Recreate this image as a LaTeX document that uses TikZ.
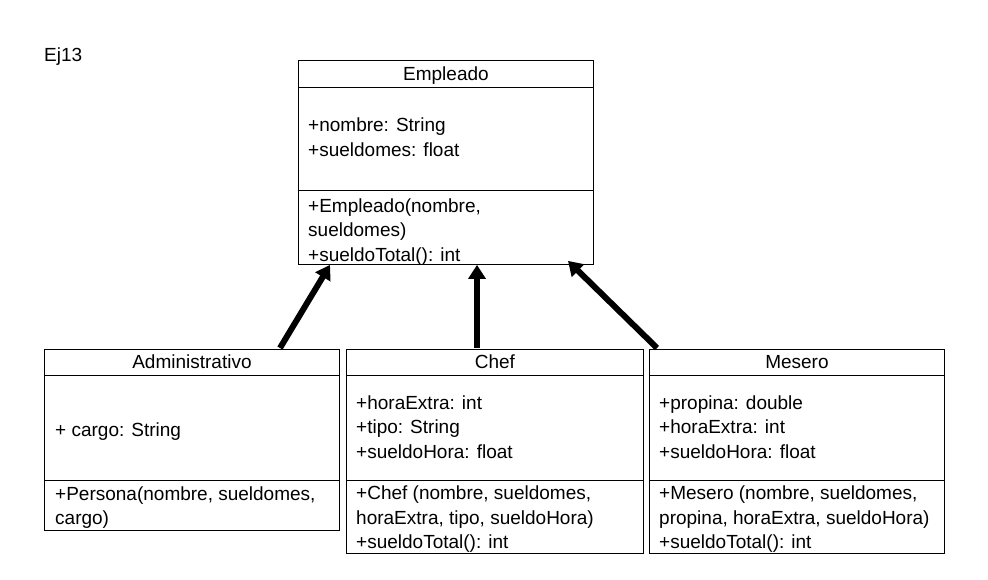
\documentclass[tikz,border=0pt]{standalone}
\usepackage{fontspec}
\setmainfont{Liberation Sans}
\usetikzlibrary{arrows.meta,calc}
\begin{document}
\begin{tikzpicture}[x=1pt,y=-1pt,
 box/.style={draw, line width=0.9pt, rectangle, inner sep=0pt, anchor=north west},
 sep/.style={line width=0.9pt},
 txt/.style={anchor=base west, inner sep=0pt, font=\fontsize{19}{24}\selectfont},
 ttl/.style={anchor=base, inner sep=0pt, font=\fontsize{19}{24}\selectfont},
 inh/.style={line width=6pt, -{Triangle[length=14pt,width=17pt]}}]
\useasboundingbox (0,0) rectangle (988,579);

\node[txt] (ej) at (44,61) {Ej13};

% Empleado
\node[box, minimum width=295pt, minimum height=204pt] (emp) at (298,60) {};
\draw[sep] ($(emp.north west)+(0,27)$) -- ($(emp.north east)+(0,27)$);
\draw[sep] ($(emp.north west)+(0,130)$) -- ($(emp.north east)+(0,130)$);
\node[ttl] (empT) at ($(emp.north)+(0,20)$) {Empleado};
\node[txt] (empA1) at ($(emp.north west)+(10,71)$) {+nombre: String};
\node[txt] (empA2) at ($(emp.north west)+(10,96)$) {+sueldomes: float};
\node[txt] (empM1) at ($(emp.north west)+(10,152)$) {+Empleado(nombre,};
\node[txt] (empM2) at ($(emp.north west)+(10,176.5)$) {sueldomes)};
\node[txt] (empM3) at ($(emp.north west)+(10,201)$) {+sueldoTotal(): int};

% Administrativo
\node[box, minimum width=295pt, minimum height=181pt] (adm) at (44,349) {};
\draw[sep] ($(adm.north west)+(0,26)$) -- ($(adm.north east)+(0,26)$);
\draw[sep] ($(adm.north west)+(0,131)$) -- ($(adm.north east)+(0,131)$);
\node[ttl] (admT) at ($(adm.north)+(0,19)$) {Administrativo};
\node[txt] (admA1) at ($(adm.north west)+(11,87)$) {+ cargo: String};
\node[txt] (admM1) at ($(adm.north west)+(11,151)$) {+Persona(nombre, sueldomes,};
\node[txt] (admM2) at ($(adm.north west)+(11,175)$) {cargo)};

% Chef
\node[box, minimum width=297pt, minimum height=204pt] (chef) at (346,349) {};
\draw[sep] ($(chef.north west)+(0,26)$) -- ($(chef.north east)+(0,26)$);
\draw[sep] ($(chef.north west)+(0,131)$) -- ($(chef.north east)+(0,131)$);
\node[ttl] (chefT) at ($(chef.north)+(0,19)$) {Chef};
\node[txt] (chefA1) at ($(chef.north west)+(10,60)$) {+horaExtra: int};
\node[txt] (chefA2) at ($(chef.north west)+(10,84.5)$) {+tipo: String};
\node[txt] (chefA3) at ($(chef.north west)+(10,109)$) {+sueldoHora: float};
\node[txt] (chefM1) at ($(chef.north west)+(10,150.5)$) {+Chef (nombre, sueldomes,};
\node[txt] (chefM2) at ($(chef.north west)+(10,175)$) {horaExtra, tipo, sueldoHora)};
\node[txt] (chefM3) at ($(chef.north west)+(10,199.5)$) {+sueldoTotal(): int};

% Mesero
\node[box, minimum width=295pt, minimum height=204pt] (mes) at (649,349) {};
\draw[sep] ($(mes.north west)+(0,26)$) -- ($(mes.north east)+(0,26)$);
\draw[sep] ($(mes.north west)+(0,131)$) -- ($(mes.north east)+(0,131)$);
\node[ttl] (mesT) at ($(mes.north)+(0,19)$) {Mesero};
\node[txt] (mesA1) at ($(mes.north west)+(10,60)$) {+propina: double};
\node[txt] (mesA2) at ($(mes.north west)+(10,84.5)$) {+horaExtra: int};
\node[txt] (mesA3) at ($(mes.north west)+(10,109)$) {+sueldoHora: float};
\node[txt] (mesM1) at ($(mes.north west)+(10,150.5)$) {+Mesero (nombre, sueldomes,};
\node[txt] (mesM2) at ($(mes.north west)+(10,175)$) {propina, horaExtra, sueldoHora)};
\node[txt] (mesM3) at ($(mes.north west)+(10,199.5)$) {+sueldoTotal(): int};

% inheritance arrows
\draw[inh] ($(adm.north west)+(236,-1)$) -- ($(emp.south west)+(32,0)$);
\draw[inh] ($(chef.north west)+(131,-1)$) -- ($(emp.south west)+(179,0)$);
\draw[inh] ($(mes.north west)+(8,-1)$) -- ($(emp.south west)+(270,-4)$);
\end{tikzpicture}
\end{document}
